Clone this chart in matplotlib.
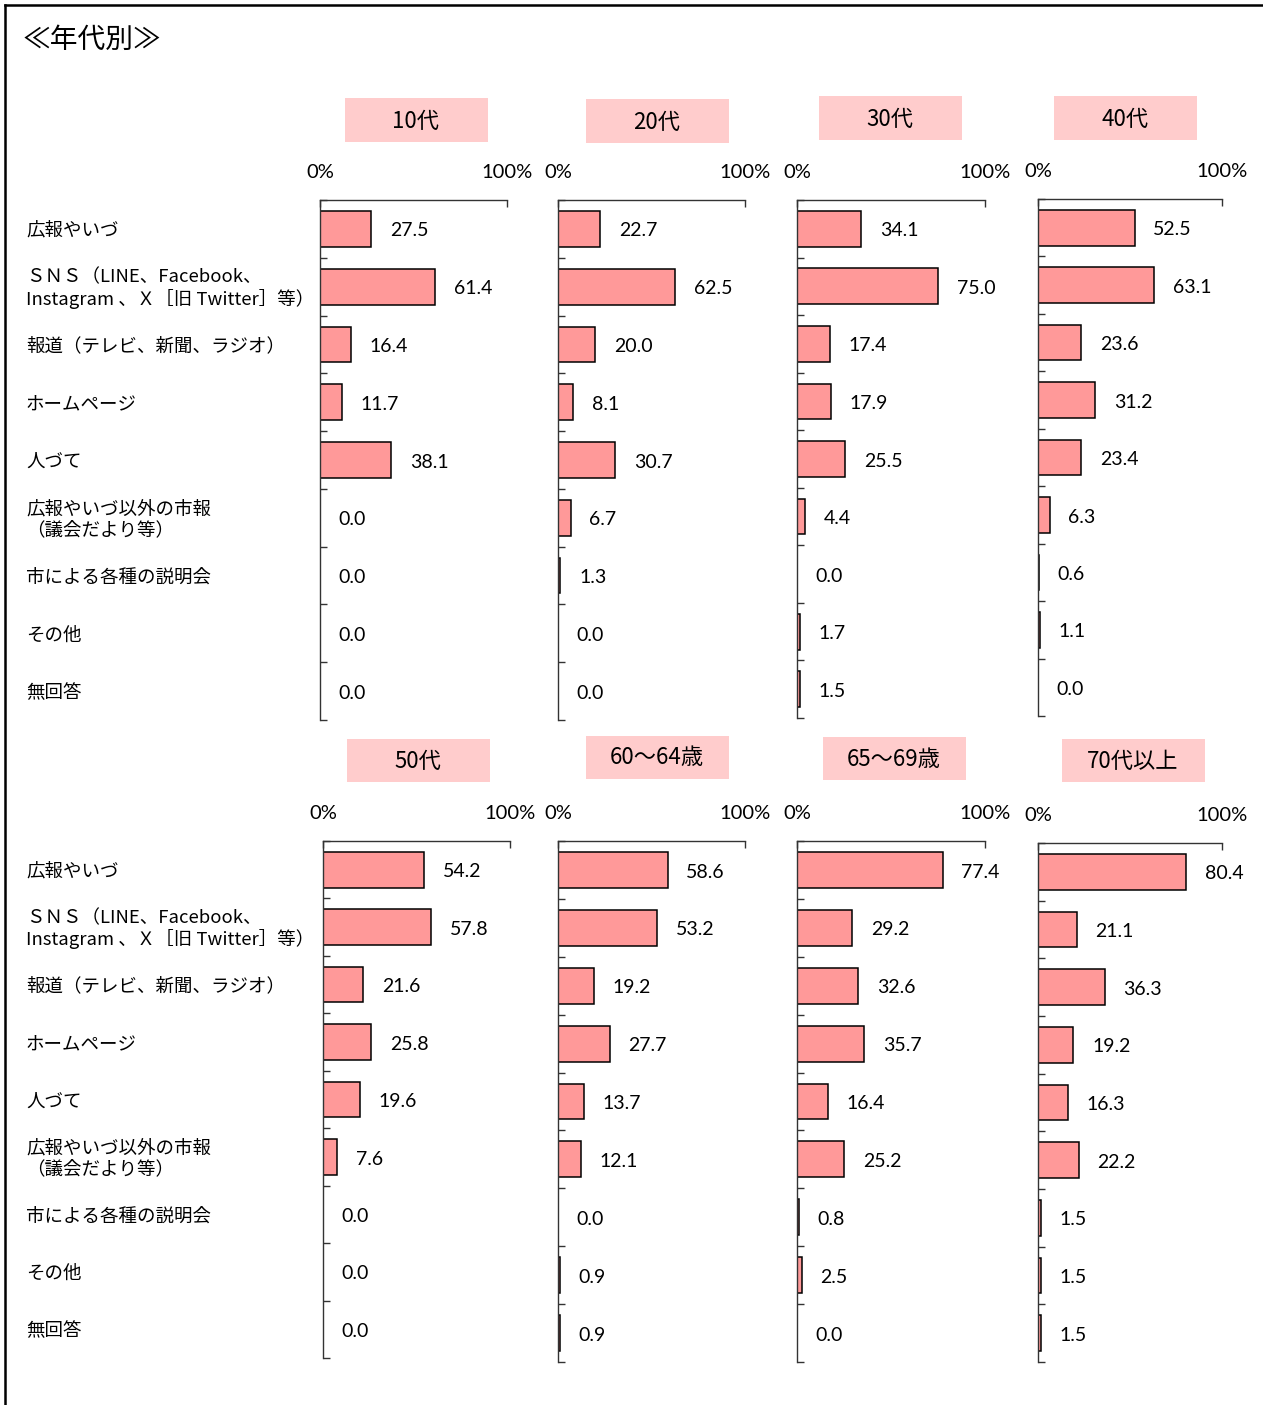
import matplotlib
matplotlib.use("Agg")
import matplotlib.pyplot as plt
from matplotlib.patches import Rectangle
from matplotlib.lines import Line2D

plt.rcParams['font.family'] = ['Noto Sans CJK JP', 'DejaVu Sans']

W, H = 1263, 1405

categories = [
    "広報やいづ",
    "ＳＮＳ（LINE、Facebook、\nInstagram 、Ｘ［旧 Twitter］等）",
    "報道（テレビ、新聞、ラジオ）",
    "ホームページ",
    "人づて",
    "広報やいづ以外の市報\n（議会だより等）",
    "市による各種の説明会",
    "その他",
    "無回答",
]

groups = ["10代", "20代", "30代", "40代", "50代", "60～64歳", "65～69歳", "70代以上"]

v10 = [27.5, 61.4, 16.4, 11.7, 38.1, 0.0, 0.0, 0.0, 0.0]
v20 = [22.7, 62.5, 20.0, 8.1, 30.7, 6.7, 1.3, 0.0, 0.0]
v30 = [34.1, 75.0, 17.4, 17.9, 25.5, 4.4, 0.0, 1.7, 1.5]
v40 = [52.5, 63.1, 23.6, 31.2, 23.4, 6.3, 0.6, 1.1, 0.0]
v50 = [54.2, 57.8, 21.6, 25.8, 19.6, 7.6, 0.0, 0.0, 0.0]
v60 = [58.6, 53.2, 19.2, 27.7, 13.7, 12.1, 0.0, 0.9, 0.9]
v65 = [77.4, 29.2, 32.6, 35.7, 16.4, 25.2, 0.8, 2.5, 0.0]
v70 = [80.4, 21.1, 36.3, 19.2, 16.3, 22.2, 1.5, 1.5, 1.5]
values = [v10, v20, v30, v40, v50, v60, v65, v70]

# panel frames in pixels: (x of 0%, x of 100%, top, bottom)
frames = [
    (320, 507, 200, 720), (558, 745, 200, 720), (797, 985, 200, 718), (1038, 1222, 199, 716),
    (323, 510, 841, 1358), (558, 745, 841, 1362), (797, 985, 841, 1362), (1038, 1222, 843, 1362),
]
# title box centres in pixels
title_pos = [(416, 120), (657, 121), (890, 118), (1125, 118),
             (418, 760), (657, 757), (894, 759), (1133, 760)]

fig = plt.figure(figsize=(W / 100, H / 100), dpi=100)

def fx(px):
    return px / W

def fy(py):
    return 1 - py / H

# outer frame (top and left only)
fig.add_artist(Line2D([fx(5), fx(5)], [fy(5), 0], color='black', lw=1.8))
fig.add_artist(Line2D([fx(5), 1], [fy(5), fy(5)], color='black', lw=1.8))

fig.text(fx(22), fy(40), "≪年代別≫", fontsize=20, va='center', ha='left')

n = len(categories)
for k, (g, vals) in enumerate(zip(groups, values)):
    x0, x1, top, bot = frames[k]
    ax = fig.add_axes([fx(x0), fy(bot), (x1 - x0) / W, (bot - top) / H])
    ys = list(range(n))
    for y, v in zip(ys, vals):
        if v > 0:
            ax.barh(y, v, height=0.62, color='#FF9999', edgecolor='black', linewidth=1.1)
        ax.annotate(f"{v:.1f}", (v, y), xytext=(13.5, -1.5), textcoords='offset points',
                    ha='left', va='center', fontsize=14, family='Lato',
                    annotation_clip=False)
    ax.set_xlim(0, 100)
    ax.set_ylim(n - 0.5, -0.5)
    for s in ['right', 'bottom']:
        ax.spines[s].set_visible(False)
    for s in ['left', 'top']:
        ax.spines[s].set_color('#333333')
        ax.spines[s].set_linewidth(1.0)
    ax.set_xticks([0, 100])
    ax.set_xticklabels(["0%", "100%"], family='Lato', fontsize=14.5)
    ax.tick_params(axis='x', top=True, labeltop=True, bottom=False, labelbottom=False,
                   direction='in', length=5, width=1.0, pad=14, color='#333333')
    ax.set_yticks([i - 0.5 for i in range(n + 1)])
    ax.set_yticklabels([])
    ax.tick_params(axis='y', direction='in', length=5, width=1.0, color='#333333')

    # title box
    cx, cy = title_pos[k]
    fig.add_artist(Rectangle((fx(cx - 71.5), fy(cy + 21.5)), 143 / W, 43 / H,
                             facecolor='#FFCCCC', edgecolor='none'))
    fig.text(fx(cx), fy(cy + 1), g, fontsize=16, ha='center', va='center')

    # category labels at the left of each row
    if k % 4 == 0:
        for y, c in zip(ys, categories):
            ypix = top + (bot - top) * (y + 0.5) / n + 2
            fig.text(fx(26), fy(ypix), c, fontsize=13.3, ha='left', va='center',
                     linespacing=1.15)

fig.savefig("out.png", dpi=100)
